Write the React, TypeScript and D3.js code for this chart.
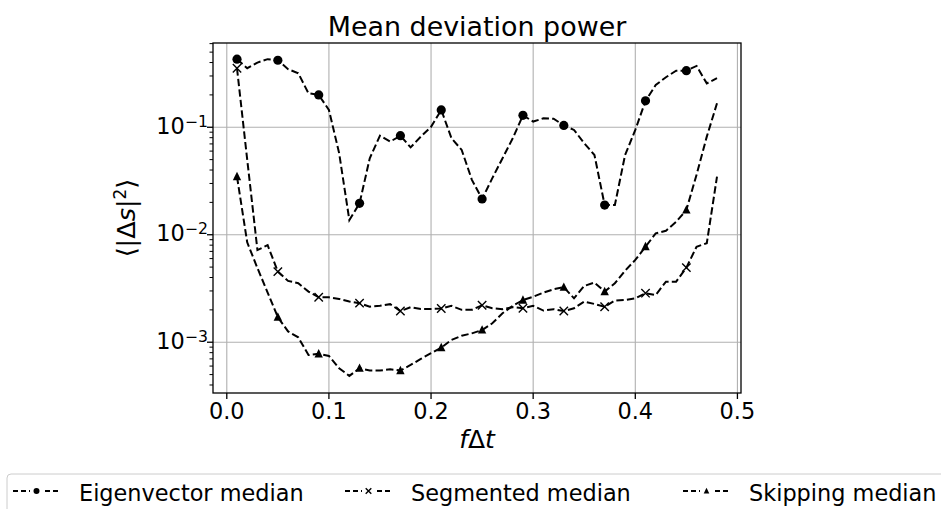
import React from "react";
import * as d3 from "d3";

const freq = [
  0.01, 0.02, 0.03, 0.04, 0.05, 0.06, 0.07, 0.08, 0.09, 0.1, 0.11, 0.12,
  0.13, 0.14, 0.15, 0.16, 0.17, 0.18, 0.19, 0.2, 0.21, 0.22, 0.23, 0.24,
  0.25, 0.26, 0.27, 0.28, 0.29, 0.3, 0.31, 0.32, 0.33, 0.34, 0.35, 0.36,
  0.37, 0.38, 0.39, 0.4, 0.41, 0.42, 0.43, 0.44, 0.45, 0.46, 0.47, 0.48,
];

const eigenvectorMedian = [
  0.43, 0.354, 0.4, 0.43, 0.42, 0.347, 0.318, 0.207, 0.2, 0.145, 0.0575, 0.0137,
  0.0196, 0.0515, 0.0835, 0.0735, 0.0835, 0.065, 0.0818, 0.101, 0.145, 0.079, 0.0615, 0.0324,
  0.0215, 0.0336, 0.0515, 0.079, 0.129, 0.113, 0.121, 0.12, 0.104, 0.0944, 0.071, 0.0552,
  0.0189, 0.0189, 0.0552, 0.0944, 0.176, 0.247, 0.292, 0.336, 0.336, 0.372, 0.256, 0.286,
];

const segmentedMedian = [
  0.354, 0.05, 0.0072, 0.008, 0.00454, 0.00372, 0.00354, 0.00296, 0.00262, 0.00262, 0.00253, 0.00239,
  0.00231, 0.00214, 0.00218, 0.00226, 0.00195, 0.00212, 0.00204, 0.00204, 0.00206, 0.00218, 0.002, 0.002,
  0.00221, 0.00207, 0.00203, 0.00212, 0.00207, 0.00218, 0.00197, 0.00203, 0.00195, 0.00207, 0.00239, 0.00227,
  0.00214, 0.00244, 0.00247, 0.00256, 0.00286, 0.00275, 0.00366, 0.00366, 0.00494, 0.00774, 0.00834, 0.0347,
];

const skippingMedian = [
  0.0347, 0.0085, 0.0049, 0.0029, 0.00171, 0.00126, 0.00111, 0.00076, 0.00078, 0.000746, 0.000573, 0.000486,
  0.000573, 0.000545, 0.000545, 0.00056, 0.000545, 0.000615, 0.0007, 0.00079, 0.00089, 0.00105, 0.00115, 0.00121,
  0.0013, 0.0015, 0.00186, 0.00218, 0.00247, 0.00265, 0.00289, 0.00311, 0.00325, 0.00256, 0.00334, 0.00359,
  0.00296, 0.00354, 0.00463, 0.00583, 0.00774, 0.0103, 0.0109, 0.0132, 0.017, 0.0362, 0.0818, 0.167,
];

const seriesNames = ["Eigenvector median", "Segmented median", "Skipping median"];
const markerTypes = ["circle", "x", "triangle"];
const xTicks = [0.0, 0.1, 0.2, 0.3, 0.4, 0.5];
const xTickLabels = ["0.0", "0.1", "0.2", "0.3", "0.4", "0.5"];
const yTicks = [1e-3, 1e-2, 1e-1];
const yTickExponents = ["−3", "−2", "−1"];
const markEvery = 4;

const FONT = "'DejaVu Sans', sans-serif";

function Marker({ type, cx, cy, s }: { type: string; cx: number; cy: number; s: number }) {
  if (type === "circle") return <circle cx={cx} cy={cy} r={s} fill="#000" />;
  if (type === "x")
    return (
      <path
        d={`M${cx - s},${cy - s}L${cx + s},${cy + s}M${cx - s},${cy + s}L${cx + s},${cy - s}`}
        stroke="#000"
        strokeWidth={1.4}
        fill="none"
      />
    );
  const h = s * 1.15;
  return (
    <path
      d={`M${cx},${cy - h}L${cx + s},${cy + h * 0.75}L${cx - s},${cy + h * 0.75}Z`}
      fill="#000"
    />
  );
}

export default function App() {
  const left = 213, right = 741, top = 43, bottom = 393;
  const x = d3.scaleLinear().domain([-0.0135, 0.5035]).range([left, right]);
  const y = d3.scaleLog().domain([3.37e-4, 0.608]).range([bottom, top]);

  const allSeries = [eigenvectorMedian, segmentedMedian, skippingMedian];
  const line = d3
    .line<number>()
    .x((_, i) => x(freq[i]))
    .y((d) => y(d));

  const minorTicks: number[] = [];
  [1e-4, 1e-3, 1e-2, 1e-1].forEach((dec) => {
    for (let k = 2; k <= 9; k++) {
      const v = dec * k;
      if (v >= y.domain()[0] && v <= y.domain()[1]) minorTicks.push(v);
    }
  });

  const legendHandles = [13, 345, 683];
  const legendTexts = [79, 411, 749];
  const legendY = 491;

  return (
    <svg
      width={941}
      height={509}
      style={{ position: "absolute", left: 0, top: 0, background: "#fff" }}
      fontFamily={FONT}
    >
      <rect x={0} y={0} width={941} height={509} fill="#fff" />
      {/* grid */}
      {xTicks.map((t) => (
        <line key={"gx" + t} x1={x(t)} x2={x(t)} y1={top} y2={bottom} stroke="#b0b0b0" strokeWidth={1.1} />
      ))}
      {yTicks.map((t) => (
        <line key={"gy" + t} x1={left} x2={right} y1={y(t)} y2={y(t)} stroke="#b0b0b0" strokeWidth={1.1} />
      ))}

      {/* series */}
      <g clipPath="url(#clip)">
        {allSeries.map((s, si) => (
          <path
            key={"l" + si}
            d={line(s) || ""}
            fill="none"
            stroke="#000"
            strokeWidth={2}
            strokeDasharray="7.4,3.2"
          />
        ))}
        {allSeries.map((s, si) =>
          s.map((v, i) =>
            i % markEvery === 0 ? (
              <Marker key={`m${si}-${i}`} type={markerTypes[si]} cx={x(freq[i])} cy={y(v)} s={si === 0 ? 4.6 : 4.2} />
            ) : null
          )
        )}
      </g>
      <defs>
        <clipPath id="clip">
          <rect x={left} y={top} width={right - left} height={bottom - top} />
        </clipPath>
      </defs>

      {/* spines */}
      <rect x={left} y={top} width={right - left} height={bottom - top} fill="none" stroke="#000" strokeWidth={1.3} />

      {/* x ticks */}
      {xTicks.map((t, i) => (
        <g key={"xt" + t}>
          <line x1={x(t)} x2={x(t)} y1={bottom} y2={bottom + 6} stroke="#000" strokeWidth={1.3} />
          <text x={x(t)} y={419} fontSize={22.4} textAnchor="middle" fill="#000">
            {xTickLabels[i]}
          </text>
        </g>
      ))}

      {/* y ticks */}
      {yTicks.map((t, i) => (
        <g key={"yt" + t}>
          <line x1={left - 6} x2={left} y1={y(t)} y2={y(t)} stroke="#000" strokeWidth={1.3} />
          <text x={208} y={y(t) + 6.5} fontSize={22.4} textAnchor="end" fill="#000">
            <tspan>10</tspan>
            <tspan dy={-7} fontSize={15.7}>
              {yTickExponents[i]}
            </tspan>
          </text>
        </g>
      ))}
      {minorTicks.map((t) => (
        <line key={"ym" + t} x1={left - 3.5} x2={left} y1={y(t)} y2={y(t)} stroke="#000" strokeWidth={1} />
      ))}

      {/* title */}
      <text x={(left + right) / 2} y={36} fontSize={26.9} textAnchor="middle" fill="#000">
        Mean deviation power
      </text>

      {/* x label */}
      <text x={(left + right) / 2} y={448} fontSize={25} textAnchor="middle" fill="#000">
        <tspan fontStyle="italic">f</tspan>
        <tspan>Δ</tspan>
        <tspan fontStyle="italic">t</tspan>
      </text>

      {/* y label */}
      <text
        transform={`translate(135,${(top + bottom) / 2}) rotate(-90)`}
        fontSize={25.5}
        textAnchor="middle"
        fill="#000"
      >
        <tspan>⟨|Δ</tspan>
        <tspan fontStyle="italic">s</tspan>
        <tspan>|</tspan>
        <tspan dy={-9} fontSize={17}>2</tspan>
        <tspan dy={9}>⟩</tspan>
      </text>

      {/* legend */}
      <rect x={7} y={474} width={960} height={60} rx={4} fill="#fff" stroke="#cccccc" strokeWidth={1} />
      {seriesNames.map((name, i) => (
        <g key={"lg" + i}>
          <line
            x1={legendHandles[i]}
            x2={legendHandles[i] + 47}
            y1={legendY}
            y2={legendY}
            stroke="#000"
            strokeWidth={2}
            strokeDasharray="5,3"
          />
          <rect x={legendHandles[i] + 17} y={legendY - 4} width={13} height={8} fill="#fff" />
          <Marker type={markerTypes[i]} cx={legendHandles[i] + 23.5} cy={legendY} s={i === 0 ? 3 : 2.8} />
          <text x={legendTexts[i]} y={501} fontSize={22.4} fill="#000">
            {name}
          </text>
        </g>
      ))}
    </svg>
  );
}
